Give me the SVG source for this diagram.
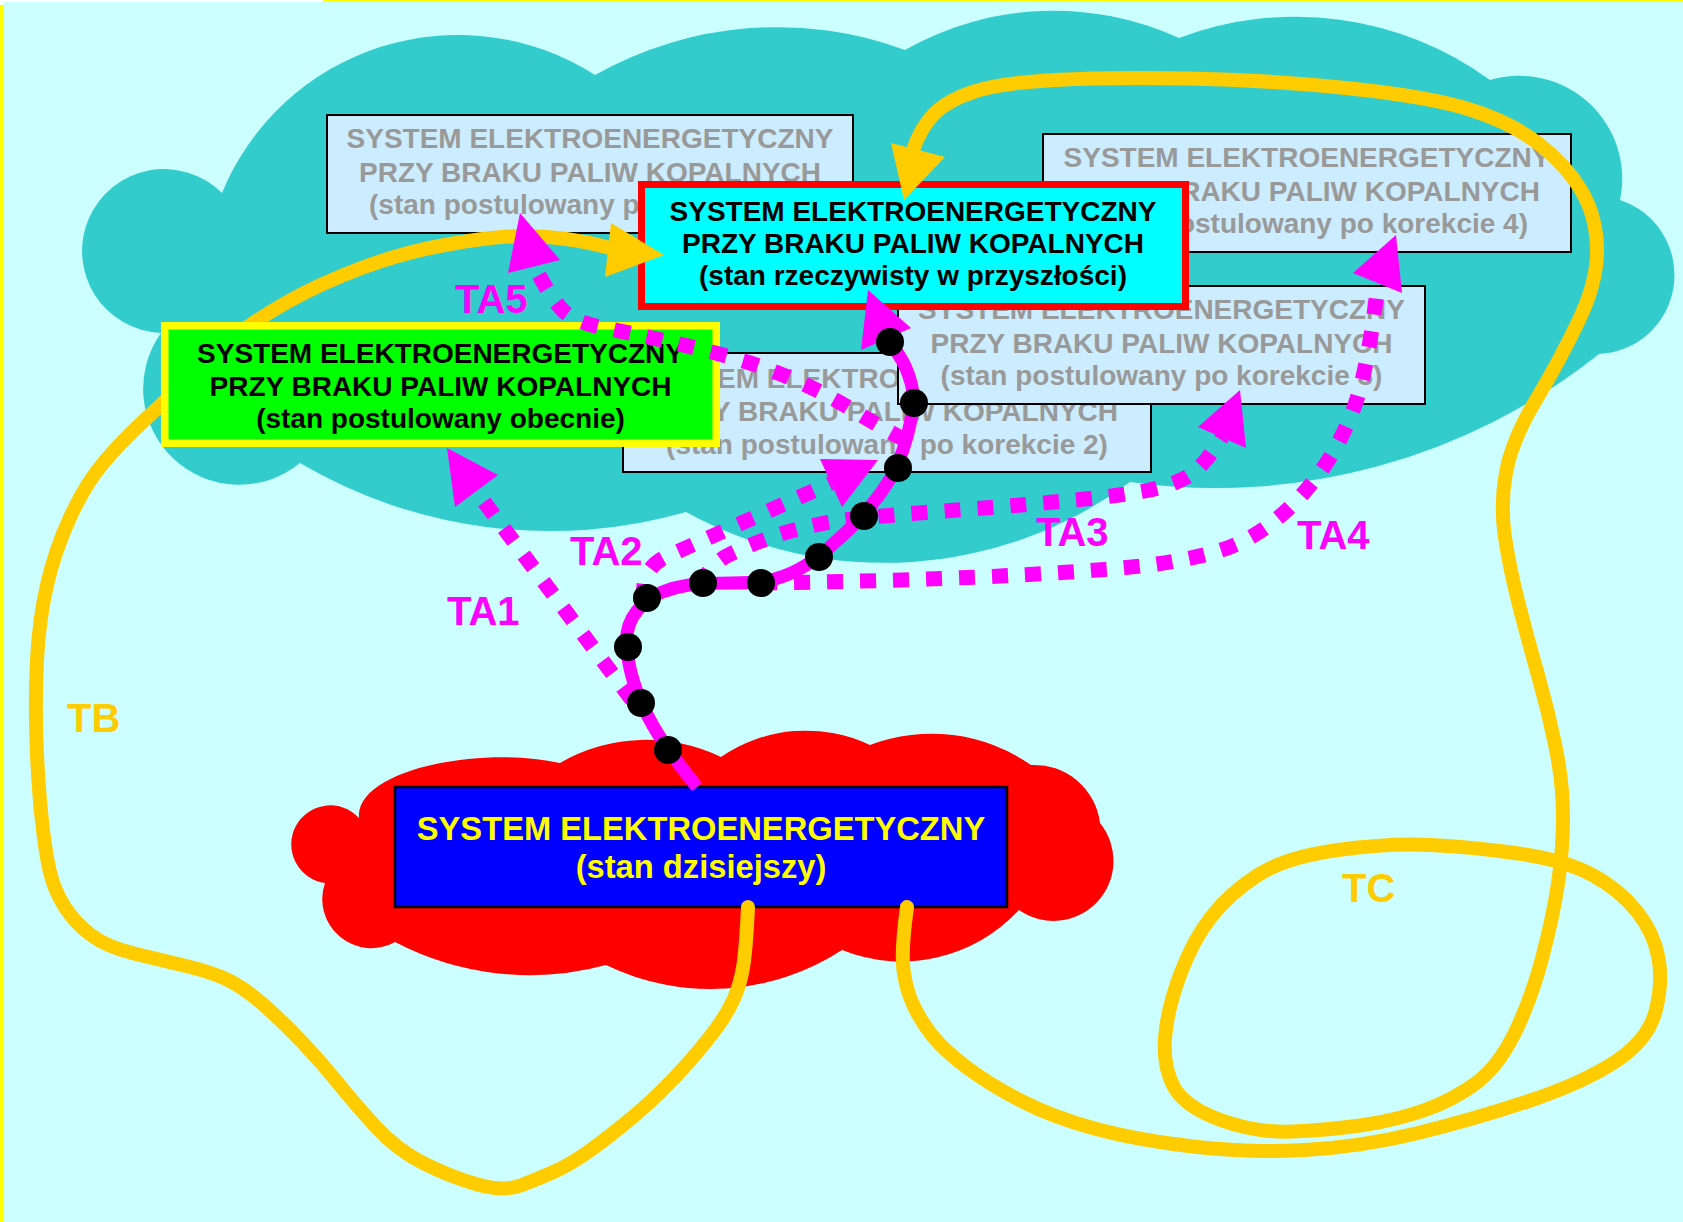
<svg xmlns="http://www.w3.org/2000/svg" width="1683" height="1222" viewBox="0 0 1683 1222">
<defs>
<style>
.box{fill:#CCECFF;stroke:#000;stroke-width:2}
.t{font-family:"Liberation Sans",Arial,sans-serif;font-weight:bold;text-anchor:middle}
.s{text-anchor:start}
.e{text-anchor:end}
.g{font-size:28px;fill:#999999}
.k{font-size:28px;fill:#000}
.y{font-size:32.7px;fill:#FFFF00}
.lb{font-family:"Liberation Sans",Arial,sans-serif;font-weight:bold;font-size:40px}
.mg{fill:#FF00FF}
.yw{fill:#FFCC00}
.yl{fill:none;stroke:#FFCC00;stroke-width:14;stroke-linecap:round;stroke-linejoin:round}
.ms{fill:none;stroke:#FF00FF;stroke-width:13;stroke-linejoin:round}
.md{fill:none;stroke:#FF00FF;stroke-width:15;stroke-dasharray:16 17}
</style>
<clipPath id="noGreen"><path clip-rule="evenodd" d="M0 0H1683V1222H0Z M161 322H720V447H161Z"/></clipPath>
</defs>
<rect x="0" y="0" width="1683" height="1222" fill="#FFFFFF"/>
<rect x="4" y="2" width="1679" height="1220" fill="#CCFFFF"/>
<rect x="0" y="5" width="4" height="1217" fill="#FFFF00"/>
<rect x="323" y="0" width="1360" height="2" fill="#FFFF00"/>

<g id="cloud-future">
<path fill="#33CCCC" d="M161 333 A82 82 0 1 1 222 193 A255 255 0 0 1 595 75 A370 370 0 0 1 905 50 A301 301 0 0 1 1179 38 A330 330 0 0 1 1490 80 A103 103 0 0 1 1620 200 A79 79 0 0 1 1599 354 A615 615 0 0 1 1130 482 A413 413 0 0 1 686 512 A493 493 0 0 1 300 463 A96 96 0 0 1 161 333 Z"/>
</g>
<g id="cloud-today">
<path fill="#FF0000" d="M359 818 C355 770 480 745 560 763 A172 172 0 0 1 721 757 A150 150 0 0 1 870 745 A174 174 0 0 1 1031 765 A66 66 0 0 1 1100 823 A60 60 0 0 1 1019 910 A160 160 0 0 1 842 950 A240 240 0 0 1 606 965 A291 291 0 0 1 395 942 A49 49 0 0 1 325 883 A39 39 0 1 1 359 818 Z"/>
</g>

<g id="box-k1">
<rect class="box" x="327" y="115" width="526" height="118"/>
<text class="t g" x="590" y="148">SYSTEM ELEKTROENERGETYCZNY</text>
<text class="t g" x="590" y="182">PRZY BRAKU PALIW KOPALNYCH</text>
<text class="t g s" x="369" y="214">(stan postulowany p</text>
</g>
<g id="box-k4">
<rect class="box" x="1043" y="134" width="528" height="118"/>
<text class="t g" x="1307" y="167">SYSTEM ELEKTROENERGETYCZNY</text>
<text class="t g e" x="1540" y="201">RAKU PALIW KOPALNYCH</text>
<text class="t g e" x="1528" y="233">ostulowany po korekcie 4)</text>
</g>
<g id="box-k2">
<rect class="box" x="623" y="353" width="528" height="119"/>
<text class="t g s" x="717" y="388">EM ELEKTRO</text>
<text class="t g" x="887" y="421">PRZY BRAKU PALIW KOPALNYCH</text>
<text class="t g" x="887" y="454">(stan postulowany po korekcie 2)</text>
</g>
<g id="box-k3">
<rect class="box" x="898" y="286" width="527" height="118"/>
<text class="t g" x="1161.5" y="319">SYSTEM ELEKTROENERGETYCZNY</text>
<text class="t g" x="1161.5" y="353">PRZY BRAKU PALIW KOPALNYCH</text>
<text class="t g" x="1161.5" y="385">(stan postulowany po korekcie 3)</text>
</g>
<g id="box-now">
<rect x="164.75" y="325.75" width="551.5" height="117.5" fill="#00FF00" stroke="#FFFF00" stroke-width="7.5"/>
<text class="t k" x="440.5" y="363">SYSTEM ELEKTROENERGETYCZNY</text>
<text class="t k" x="440.5" y="396">PRZY BRAKU PALIW KOPALNYCH</text>
<text class="t k" x="440.5" y="428">(stan postulowany obecnie)</text>
</g>
<g id="box-real">
<rect x="641.5" y="184.5" width="544" height="122" fill="#00FFFF" stroke="#FF0000" stroke-width="7"/>
<text class="t k" x="913" y="221">SYSTEM ELEKTROENERGETYCZNY</text>
<text class="t k" x="913" y="253">PRZY BRAKU PALIW KOPALNYCH</text>
<text class="t k" x="913" y="285">(stan rzeczywisty w przyszłości)</text>
</g>
<g id="box-today">
<rect x="395" y="787" width="612" height="120" fill="#0000FF" stroke="#000" stroke-width="2.5"/>
<text class="t y" x="701" y="840">SYSTEM ELEKTROENERGETYCZNY</text>
<text class="t y" x="701" y="878">(stan dzisiejszy)</text>
</g>

<g id="connectors">
<path class="yl" clip-path="url(#noGreen)" d="M748 907 Q746 950 743 967.5 Q740 985 734 998.5 Q728 1012 718 1026 Q708 1040 692 1058.5 Q676 1077 660 1092.5 Q644 1108 622.5 1125.5 Q601 1143 585 1154 Q569 1165 554.5 1171.5 Q540 1178 522 1185 Q504 1192 477.5 1184.5 Q451 1177 424 1163.5 Q397 1150 375.5 1126.5 Q354 1103 338 1083 Q322 1063 303 1043 Q284 1023 265.5 1006.5 Q247 990 231 981.5 Q215 973 188 966.5 Q161 960 134 953.5 Q107 947 91 935 Q75 923 64.5 906.5 Q54 890 49.5 870 Q45 850 41.5 816.5 Q38 783 36.5 741.5 Q35 700 37 660 Q39 620 47 585 Q55 550 70.5 516.5 Q86 483 104.5 461.5 Q123 440 142 422.5 Q161 405 183 383.5 Q205 362 228.5 342 Q252 322 286.5 302.5 Q321 283 361.5 268 Q402 253 442 245.5 Q482 238 509 236.5 Q536 235 562.5 238.5 Q589 242 610 248"/>
<polygon class="yw" points="664,255 611,223 605,277"/>
<path class="yl" d="M907 907 Q901 950 903.5 970 Q906 990 914 1006.5 Q922 1023 933 1036.5 Q944 1050 965.5 1066.5 Q987 1083 1019.5 1100 Q1052 1117 1094.5 1128.5 Q1137 1140 1193 1146.5 Q1249 1153 1304.5 1150 Q1360 1147 1416 1133.5 Q1472 1120 1527.5 1101.5 Q1583 1083 1615.5 1061.5 Q1648 1040 1655.5 1011.5 Q1663 983 1658.5 958 Q1654 933 1637 911.5 Q1620 890 1592.5 875 Q1565 860 1518.5 853.5 Q1472 847 1431 845 Q1390 843 1338 850 Q1286 857 1258 875 Q1230 893 1211.5 916.5 Q1193 940 1180 975 Q1167 1010 1165 1038.5 Q1163 1067 1174 1087 Q1185 1107 1220.5 1120 Q1256 1133 1293 1131.5 Q1330 1130 1363.5 1125 Q1397 1120 1425 1110 Q1453 1100 1475.5 1083.5 Q1498 1067 1514.5 1033.5 Q1531 1000 1542 958.5 Q1553 917 1558 883.5 Q1563 850 1563 816.5 Q1563 783 1555.5 746.5 Q1548 710 1538 675 Q1528 640 1519 605 Q1510 570 1505 537.5 Q1500 505 1506 472.5 Q1512 440 1536 400 Q1560 360 1579 320 Q1598 280 1597 247.5 Q1596 215 1581 190 Q1566 165 1539 144 Q1512 123 1471.5 110 Q1431 97 1350.5 88.5 Q1270 80 1189.5 78.5 Q1109 77 1055 80 Q1001 83 974.5 91.5 Q948 100 934.5 113.5 Q921 127 913 150"/>
<polygon class="yw" points="904,200 891,143 945,157"/>

<path class="md" d="M632 700 L476 491"/>
<polygon class="mg" points="447,448 455,507 498,475"/>
<path class="md" d="M645 600 C640 578 650 563 670 555 L831 483"/>
<polygon class="mg" points="878,460 820,459 842,507"/>
<path class="md" d="M700 585 Q712 563 728.5 555 Q745 547 767.5 538.5 Q790 530 820 524 Q850 518 925 512.5 Q1000 507 1060 501.5 Q1120 496 1147.5 490.5 Q1175 485 1190 475 Q1205 465 1222 437"/>
<polygon class="mg" points="1240,390 1198,427 1246,448"/>
<path class="md" d="M761 583 Q900 581 1000 576 Q1100 571 1145 565.5 Q1190 560 1220 550.5 Q1250 541 1275 520.5 Q1300 500 1320 472.5 Q1340 445 1354 407.5 Q1368 370 1378 283"/>
<polygon class="mg" points="1396,235 1353,273 1402,293"/>
<path class="md" d="M905 440 Q877 425 850 408.5 Q823 392 791.5 378.5 Q760 365 726.5 356 Q693 347 661.5 340 Q630 333 602.5 327.5 Q575 322 563.5 311 Q552 300 534 266"/>
<polygon class="mg" points="520,213 508,273 560,260"/>

<path class="ms" d="M697 787 Q667 750 653.5 726.5 Q640 703 633.5 681.5 Q627 660 626.5 642.5 Q626 625 636.5 611.5 Q647 598 661 592.5 Q675 587 689 585 Q703 583 732 583 Q761 583 776.5 578.5 Q792 574 805.5 565.5 Q819 557 841.5 536.5 Q864 516 881.5 492 Q899 468 907.5 435 Q916 402 911.5 384.5 Q907 367 898.5 354.5 Q890 342 886 338"/>
<polygon class="mg" points="868,290 861,350 911,328"/>
<g fill="#000">
<circle cx="668" cy="750" r="14"/>
<circle cx="641" cy="703" r="14"/>
<circle cx="628" cy="647" r="14"/>
<circle cx="647" cy="598" r="14"/>
<circle cx="703" cy="583" r="14"/>
<circle cx="761" cy="583" r="14"/>
<circle cx="819" cy="557" r="14"/>
<circle cx="864" cy="516" r="14"/>
<circle cx="898" cy="468" r="14"/>
<circle cx="914" cy="403" r="14"/>
<circle cx="890" cy="342" r="14"/>
</g>
</g>

<g id="labels">
<text class="lb mg" x="455" y="313">TA5</text>
<text class="lb mg" x="447" y="625">TA1</text>
<text class="lb mg" x="570" y="565">TA2</text>
<text class="lb mg" x="1036" y="546">TA3</text>
<text class="lb mg" x="1297" y="549">TA4</text>
<text class="lb yw" x="67" y="732">TB</text>
<text class="lb yw" x="1342" y="902">TC</text>
</g>
</svg>
